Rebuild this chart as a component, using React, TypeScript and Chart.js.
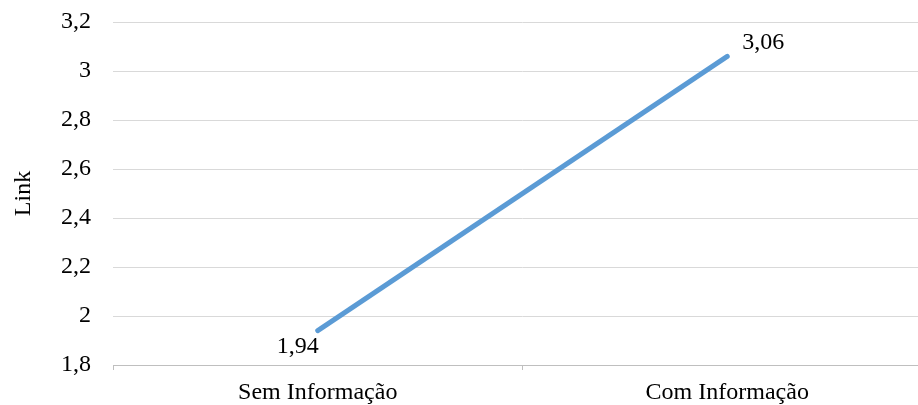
import React, { useEffect, useRef } from "react";
import { Chart, registerables } from "chart.js";

Chart.register(...registerables);

const categories = ["Sem Informação", "Com Informação"];
const values = [1.94, 3.06];
const yTitle = "Link";
const yMin = 1.8;
const yMax = 3.2;
const yStep = 0.2;

const FONT = "'Liberation Serif', 'Times New Roman', serif";

const fmt = (v: number, digits: number) =>
  Number(v.toFixed(digits)).toString().replace(".", ",");

const labelPlugin = {
  id: "pointLabels",
  afterDatasetsDraw(chart: any) {
    const ctx = chart.ctx;
    const meta = chart.getDatasetMeta(0);
    ctx.save();
    ctx.font = `24px ${FONT}`;
    ctx.fillStyle = "#000000";
    ctx.textBaseline = "middle";
    meta.data.forEach((pt: any, i: number) => {
      const text = fmt(values[i], 2);
      if (i === 0) {
        ctx.textAlign = "center";
        ctx.fillText(text, pt.x - 20, pt.y + 16);
      } else {
        ctx.textAlign = "left";
        ctx.fillText(text, pt.x + 15, pt.y - 14);
      }
    });
    ctx.restore();
  },
};

export default function App() {
  const ref = useRef<HTMLCanvasElement | null>(null);
  useEffect(() => {
    if (!ref.current) return;
    const chart = new Chart(ref.current, {
      type: "line",
      data: {
        labels: categories,
        datasets: [
          {
            data: values,
            borderColor: "#5B9BD5",
            borderWidth: 5,
            borderCapStyle: "round",
            pointRadius: 0,
            pointHoverRadius: 0,
            tension: 0,
          },
        ],
      },
      options: {
        animation: false,
        responsive: false,
        devicePixelRatio: 1,
        layout: { padding: { top: 22, right: 2, left: 0, bottom: 0 } },
        plugins: {
          legend: { display: false },
          tooltip: { enabled: false },
        },
        scales: {
          x: {
            type: "category",
            offset: true,
            border: { display: true, color: "#BFBFBF", width: 1 },
            grid: {
              offset: true,
              drawOnChartArea: false,
              drawTicks: true,
              tickLength: 5,
              color: "#BFBFBF",
            },
            ticks: {
              color: "#000000",
              font: { family: FONT, size: 24 },
              padding: 8,
              maxRotation: 0,
            },
            afterFit(scale: any) {
              scale.height = 40;
            },
          },
          y: {
            min: yMin,
            max: yMax,
            border: { display: false },
            grid: {
              color: "#D9D9D9",
              lineWidth: 1,
              drawTicks: true,
              tickLength: 22,
              tickColor: "rgba(0,0,0,0)",
            },
            ticks: {
              stepSize: yStep,
              color: "#000000",
              font: { family: FONT, size: 24 },
              padding: 0,
              callback: (v: any) => fmt(Number(v), 1),
            },
            title: {
              display: true,
              text: yTitle,
              color: "#000000",
              font: { family: FONT, size: 24 },
              padding: { top: 9, bottom: 0 },
            },
            afterFit(scale: any) {
              scale.width = 113;
            },
          },
        },
      },
      plugins: [labelPlugin],
    });
    return () => chart.destroy();
  }, []);
  return (
    <div style={{ position: "absolute", left: 0, top: 0, width: 918, height: 405, overflow: "hidden", background: "#fff" }}>
      <canvas ref={ref} width={934} height={405} />
    </div>
  );
}
